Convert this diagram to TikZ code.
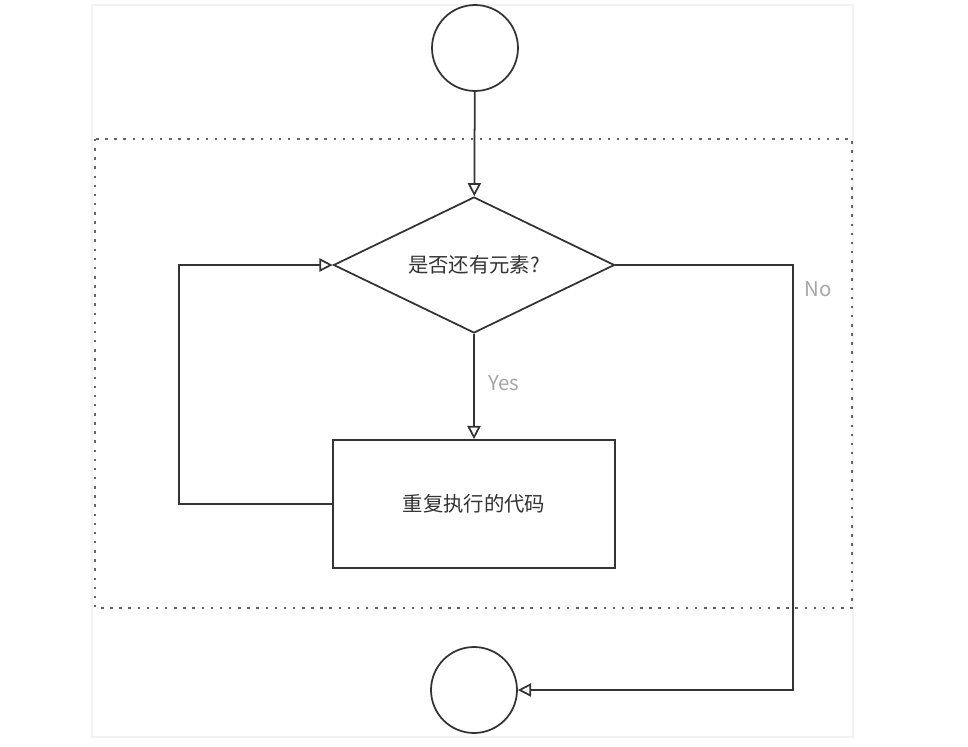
\documentclass[tikz,border=0pt]{standalone}
\usepackage{fontspec}
\setmainfont{Noto Sans CJK SC}
\usetikzlibrary{shapes.geometric,arrows.meta}

\definecolor{linegray}{HTML}{333333}
\definecolor{labelgray}{HTML}{A6A6A6}

\begin{document}
\begin{tikzpicture}[
    x=0.02cm, y=-0.02cm,
    every node/.style={font=\fontsize{11.6}{14}\selectfont, text=linegray},
    terminal/.style={circle, draw=linegray, line width=1pt, minimum size=1.72cm, inner sep=0pt},
    decision/.style={diamond, shape aspect=2.07, draw=linegray, line width=1pt, minimum width=5.62cm, minimum height=2.72cm, inner sep=0pt},
    process/.style={rectangle, draw=linegray, line width=1pt, minimum width=5.64cm, minimum height=2.56cm},
    flow/.style={draw=linegray, line width=1pt, -{Triangle[open,length=7.5pt,width=7.5pt]}},
    branch/.style={text=labelgray}
  ]
    \useasboundingbox (0,0) rectangle (968,747);
    % Frame:
    \draw[draw=black!5, line width=0.6pt] (92,5) rectangle (853,737);
    \draw[draw=black!60, line width=1.4pt, dash pattern=on 1.4pt off 3.8pt] (95,139) rectangle (852,608);
    % Definitions:
    \node[terminal] (start) at (475,48) {};
    \node[decision] (check) at (474,265) {是否还有元素?};
    \node[process] (body) at (474,504) {重复执行的代码};
    \node[terminal] (stop) at (474,690) {};
    \coordinate (loopl) at (179,0);
    \coordinate (exitr) at (793,0);
    % Drawing:
    \draw[flow] (start) -- (check);
    \draw[flow] (check) -- (body);
    \draw[flow] (body.west) -- (loopl |- body.west) -- (loopl |- check.west) -- (check.west);
    \draw[flow] (check.east) -- (exitr |- check.east) -- (exitr |- stop.east) -- (stop.east);
    % Labels:
    \node[branch] at (504,383) {Yes};
    \node[branch] at (818,289) {No};
\end{tikzpicture}
\end{document}
